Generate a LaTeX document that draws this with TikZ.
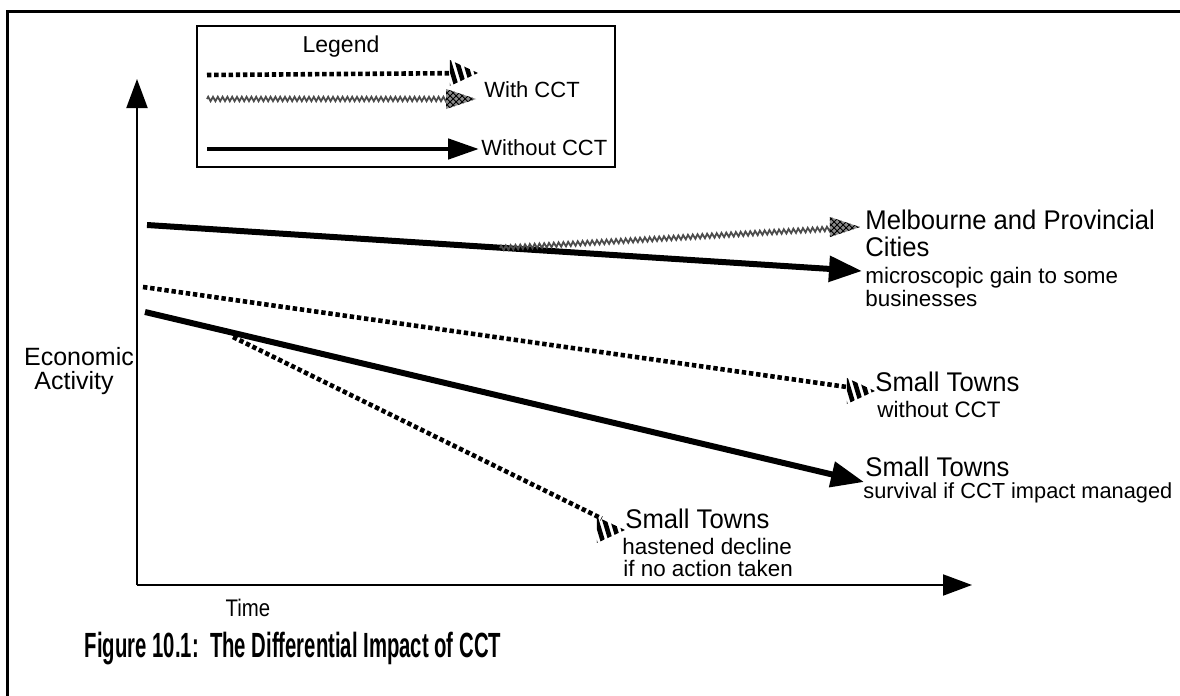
\documentclass[tikz,border=0pt]{standalone}
\usepackage{fontspec}
\setmainfont{Liberation Sans}
\newfontfamily\capfont[FakeStretch=0.58]{Liberation Sans}
\newfontfamily\labfont[FakeStretch=0.95]{Liberation Sans}
\newfontfamily\timefont[FakeStretch=0.85]{Liberation Sans}
\usetikzlibrary{arrows.meta,decorations.markings,decorations.pathmorphing,patterns,calc}
\tikzset{
  solidline/.style={line width=3pt,-{Triangle[length=16.5pt,width=12.5pt]}},
  legsolid/.style={line width=2.4pt,-{Triangle[length=15.5pt,width=10pt]}},
  axisline/.style={line width=1pt,-{Triangle[length=14.5pt,width=10.5pt]}},
  dashline/.style={line width=2.3pt,dash pattern=on 2.2pt off 1.4pt},
  grayline/.style={line width=0.9pt,black!70,decorate,decoration={zigzag,segment length=2.4pt,amplitude=1.1pt}},
  hatchhead/.pic={
    \begin{scope}
      \clip (-28,-13) -- (0,0) -- (-28,13) -- cycle;
      \foreach \k in {-38,-30,...,2} \draw[line width=2.3pt] (\k,-15) -- (\k+9,15);
    \end{scope}
  },
  grayhead/.pic={
    \fill[black!45] (-30,-10) -- (0,0) -- (-30,10) -- cycle;
    \fill[pattern=crosshatch] (-30,-10) -- (0,0) -- (-30,10) -- cycle;
  },
  hatchend/.style={decorate,decoration={markings,mark=at position 1 with {\pic{hatchhead};}}},
  grayend/.style={decorate,decoration={markings,mark=at position 1 with {\pic{grayhead};}}},
  biglbl/.style={anchor=base west,inner sep=0pt,font=\labfont\fontsize{13.5}{16}\selectfont},
  smalllbl/.style={anchor=base west,inner sep=0pt,font=\fontsize{11.2}{13}\selectfont},
  leglbl/.style={anchor=west,inner sep=0pt,font=\fontsize{11}{13}\selectfont},
  ylbl/.style={anchor=base,inner sep=0pt,font=\fontsize{12.5}{14}\selectfont},
}
\begin{document}
\begin{tikzpicture}[x=0.5pt,y=-0.5pt]
\useasboundingbox (0,0) rectangle (1180,696);
% outer frame
\draw[line width=1.5pt] (1180,11) -- (7,11) -- (7,696);

% legend
\draw[line width=1.2pt] (197,26) rectangle (615,167);
\node[anchor=base,inner sep=0pt,font=\fontsize{11.5}{13}\selectfont] (legtitle) at (341,53) {Legend};
\coordinate (lg1s) at (207,75);  \coordinate (lg1e) at (478,73);
\coordinate (lg2s) at (207,99); \coordinate (lg2e) at (476,99);
\coordinate (lg3s) at (207,149); \coordinate (lg3e) at (479,149);
\draw[dashline] (lg1s) -- ($(lg1e)!13pt!(lg1s)$);
\path[hatchend] (lg1s) -- (lg1e);
\draw[grayline] (lg2s) -- ($(lg2e)!14pt!(lg2s)$);
\path[grayend] (lg2s) -- (lg2e);
\draw[legsolid] (lg3s) -- (lg3e);
\node[leglbl] (withcct) at (484,90) {With CCT};
\node[leglbl] (withoutcct) at (481,148) {Without CCT};

% axes
\coordinate (O) at (137,585);
\coordinate (ytop) at (137,79);
\coordinate (xend) at (972,585);
\draw[axisline] (O) -- (ytop);
\draw[axisline] (O) -- (xend);
\node[ylbl] (ylab1) at (79,365) {Economic};
\node[ylbl] (ylab2) at (74,389) {Activity};
\node[inner sep=0pt,font=\timefont\fontsize{12}{14}\selectfont] (xlab) at (248,608) {Time};

% Melbourne lines
\coordinate (m1s) at (147,225); \coordinate (m1e) at (862,271);
\draw[solidline] (m1s) -- (m1e);
\coordinate (m2s) at (500,248); \coordinate (m2e) at (860,227);
\draw[grayline] (m2s) -- ($(m2e)!14pt!(m2s)$);
\path[grayend] (m2s) -- (m2e);

% Small towns (dashed upper)
\coordinate (s1s) at (143,287); \coordinate (s1e) at (875,391);
\draw[dashline] (s1s) -- ($(s1e)!13pt!(s1s)$);
\path[hatchend] (s1s) -- (s1e);

% Small towns solid
\coordinate (s2s) at (145,312); \coordinate (s2e) at (864,482);
\draw[solidline] (s2s) -- (s2e);

% Small towns hastened decline
\coordinate (s3s) at (233,337); \coordinate (s3e) at (625,530);
\draw[dashline] (s3s) -- ($(s3e)!13pt!(s3s)$);
\path[hatchend] (s3s) -- (s3e);

% labels
\node[biglbl] (mel1) at (865,229) {Melbourne and Provincial};
\node[biglbl] (mel2) at (865,256) {Cities};
\node[smalllbl] (mel3) at (865,283) {microscopic gain to some};
\node[smalllbl] (mel4) at (865,306) {businesses};

\node[biglbl] (st1) at (875,391) {Small Towns};
\node[smalllbl] (st1b) at (877,417) {without CCT};

\node[biglbl] (st2) at (865,476) {Small Towns};
\node[smalllbl,font=\fontsize{10.9}{13}\selectfont] (st2b) at (863,498) {survival if CCT impact managed};

\node[biglbl] (st3) at (625,528) {Small Towns};
\node[smalllbl] (st3b) at (622,554) {hastened decline};
\node[smalllbl] (st3c) at (623,576) {if no action taken};

% caption
\node[anchor=base,inner sep=0pt,font=\capfont\bfseries\fontsize{17.5}{20}\selectfont] (cap) at (293,657) {Figure 10.1:\ \ The Differential Impact of CCT};
\end{tikzpicture}
\end{document}
